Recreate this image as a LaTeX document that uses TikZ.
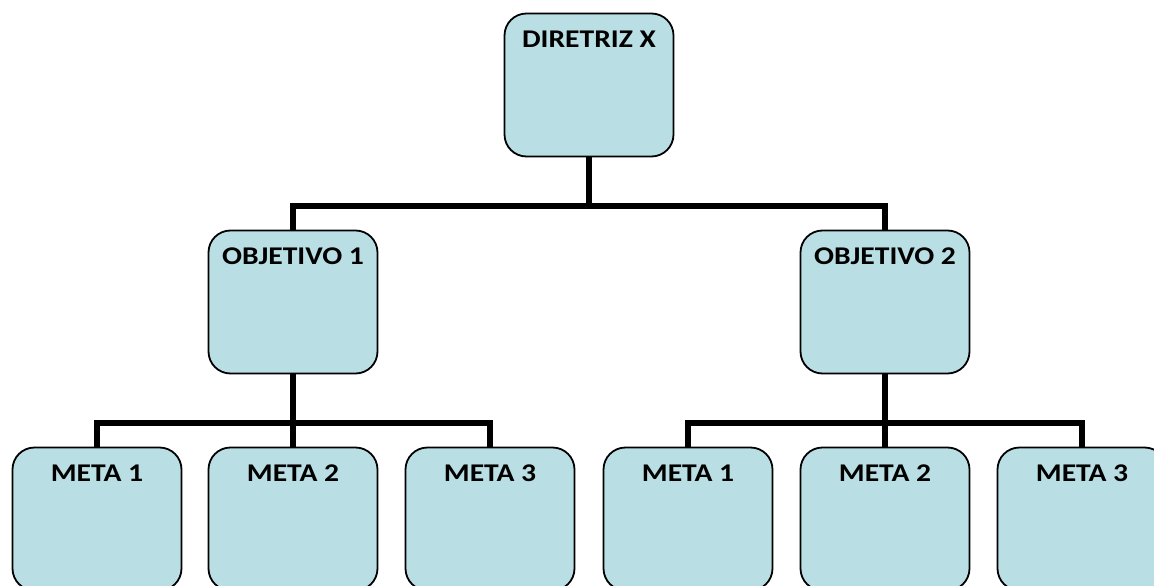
\documentclass[tikz,border=0pt]{standalone}
\usepackage{fontspec}
\setmainfont{Carlito}
\newfontfamily\boxfont[FakeStretch=1.16]{Carlito}
\definecolor{boxfill}{HTML}{B9DFE4}
\begin{document}
\begin{tikzpicture}[x=1pt,y=-1pt,
  box/.style={draw=black, line width=1.8pt, fill=boxfill, rounded corners=22pt,
    minimum width=169pt, minimum height=143pt, inner sep=0pt,
    label={[lbl]north:#1}},
  lbl/.style={anchor=north, yshift=-18pt, font=\boxfont\fontsize{25.5pt}{28pt}\selectfont\bfseries, inner sep=0pt},
  conn/.style={draw=black, line width=5.2pt, line join=miter}]
\useasboundingbox (0,0) rectangle (1154,586);
\clip (0,0) rectangle (1154,586);
\node[box={DIRETRIZ X}] (dir) at (589,85) {};
\node[box={OBJETIVO 1}] (obj1) at (293,302) {};
\node[box={OBJETIVO 2}] (obj2) at (885,302) {};
\node[box={META 1}] (m11) at (97,519) {};
\node[box={META 2}] (m12) at (293,519) {};
\node[box={META 3}] (m13) at (490,519) {};
\node[box={META 1}] (m21) at (688,519) {};
\node[box={META 2}] (m22) at (885,519) {};
\node[box={META 3}] (m23) at (1082,519) {};
\coordinate (h1) at (589,206);
\coordinate (h2) at (293,423);
\coordinate (h3) at (885,423);
\draw[conn] (dir.south) -- (h1);
\draw[conn] (obj1.north) |- (h1) -| (obj2.north);
\draw[conn] (obj1.south) -- (h2);
\draw[conn] (m11.north) |- (h2) -| (m13.north);
\draw[conn] (h2) -- (m12.north);
\draw[conn] (obj2.south) -- (h3);
\draw[conn] (m21.north) |- (h3) -| (m23.north);
\draw[conn] (h3) -- (m22.north);
\end{tikzpicture}
\end{document}
